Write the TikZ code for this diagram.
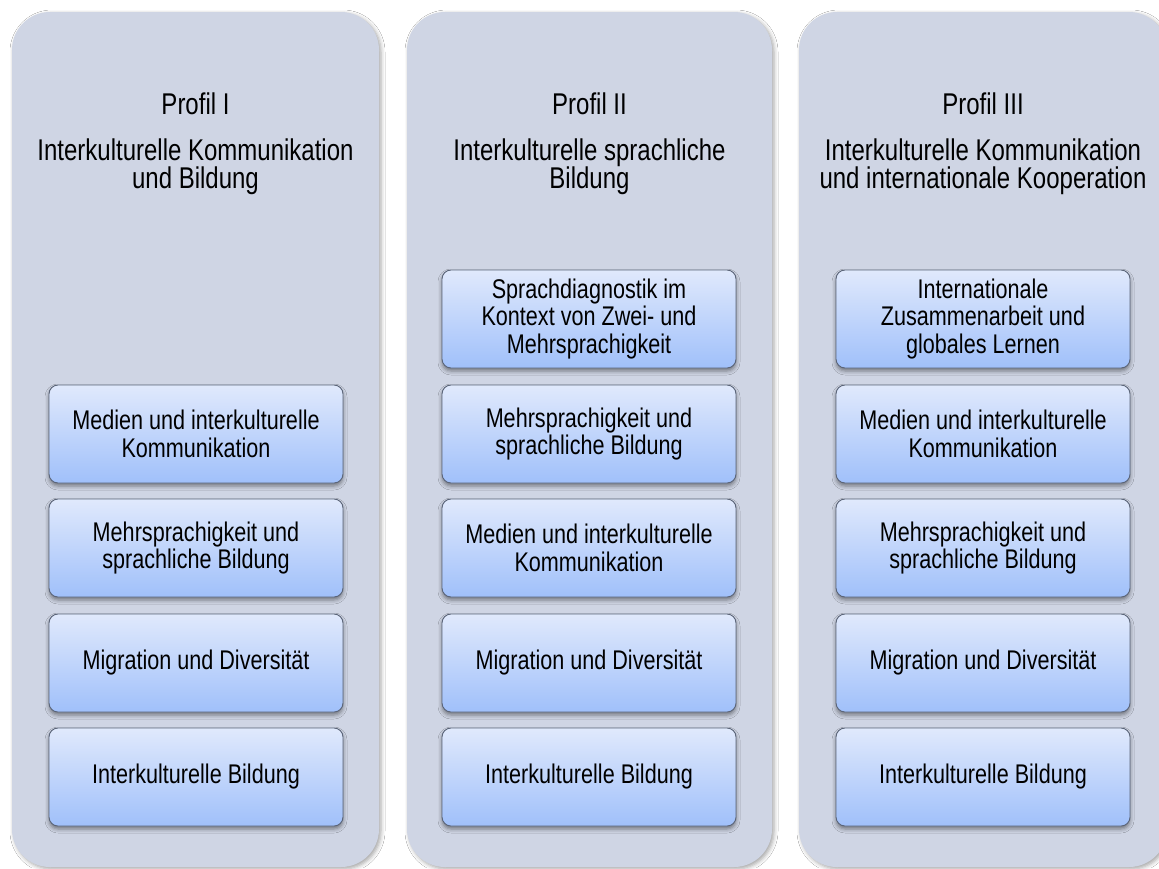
\documentclass[tikz,border=0pt]{standalone}
\usepackage{fontspec}
\setmainfont[FakeStretch=0.8]{Liberation Sans}
\usetikzlibrary{shadows.blur}
\definecolor{colfill}{RGB}{207,213,228}
\definecolor{boxtop}{RGB}{224,233,252}
\definecolor{boxbot}{RGB}{160,192,250}
\definecolor{boxline}{RGB}{90,100,120}
\tikzset{
 column/.style={fill=colfill, rounded corners=38pt, inner sep=0pt,
   blur shadow={shadow xshift=2pt, shadow yshift=-2pt, shadow blur radius=4pt, shadow opacity=35}},
 topic/.style={draw=boxline, line width=0.9pt, rounded corners=9pt, top color=boxtop, bottom color=boxbot,
   minimum width=294pt, minimum height=98pt, inner sep=0pt, align=center,
   font=\fontsize{27}{27.5}\selectfont,
   blur shadow={shadow xshift=0pt, shadow yshift=-3pt, shadow blur radius=4pt, shadow opacity=45}},
 heading/.style={align=center, inner sep=0pt, font=\fontsize{30}{28}\selectfont},
}
\begin{document}
\begin{tikzpicture}[x=1pt,y=-1pt]
\fill[white] (0,0) rectangle (1159,868);
\useasboundingbox (0,0) rectangle (1159,868);
% columns
\node[column, minimum width=367pt, minimum height=855pt] (col1) at (195.5,439.5) {};
\node[column, minimum width=365pt, minimum height=855pt] (col2) at (589.5,439.5) {};
\node[column, minimum width=368pt, minimum height=855pt] (col3) at (983,439.5) {};
% headings
\node[heading, anchor=base] (p1) at (195.5,114) {Profil I};
\node[heading, anchor=north] (t1) at (195.5,138.5) {Interkulturelle Kommunikation\\und Bildung};
\node[heading, anchor=base] (p2) at (589.5,114) {Profil II};
\node[heading, anchor=north] (t2) at (589.5,138.5) {Interkulturelle sprachliche\\Bildung};
\node[heading, anchor=base] (p3) at (983,114) {Profil III};
\node[heading, anchor=north] (t3) at (983,138.5) {Interkulturelle Kommunikation\\und internationale Kooperation};
% column 1
\node[topic] (a2) at (196,434) {Medien und interkulturelle\\Kommunikation};
\node[topic] (a3) at (196,548) {Mehrsprachigkeit und\\sprachliche Bildung};
\node[topic] (a4) at (196,663) {Migration und Diversität};
\node[topic] (a5) at (196,777) {Interkulturelle Bildung};
% column 2
\node[topic] (b1) at (589,319) {Sprachdiagnostik im\\Kontext von Zwei- und\\Mehrsprachigkeit};
\node[topic] (b2) at (589,434) {Mehrsprachigkeit und\\sprachliche Bildung};
\node[topic] (b3) at (589,548) {Medien und interkulturelle\\Kommunikation};
\node[topic] (b4) at (589,663) {Migration und Diversität};
\node[topic] (b5) at (589,777) {Interkulturelle Bildung};
% column 3
\node[topic] (c1) at (983,319) {Internationale\\Zusammenarbeit und\\globales Lernen};
\node[topic] (c2) at (983,434) {Medien und interkulturelle\\Kommunikation};
\node[topic] (c3) at (983,548) {Mehrsprachigkeit und\\sprachliche Bildung};
\node[topic] (c4) at (983,663) {Migration und Diversität};
\node[topic] (c5) at (983,777) {Interkulturelle Bildung};
\end{tikzpicture}
\end{document}
